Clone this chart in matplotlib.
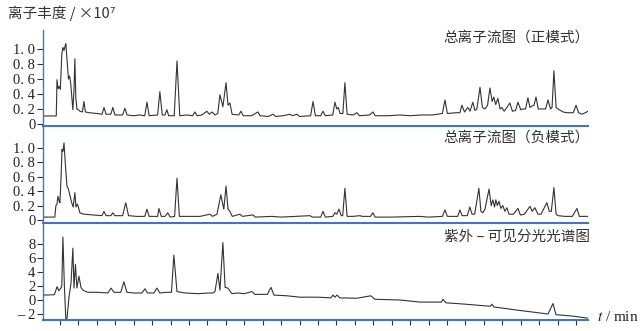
import matplotlib
matplotlib.use("Agg")
import matplotlib.pyplot as plt

# ---- data (time in min) ----
pos_t = [0.08, 0.80, 0.84, 0.90, 0.96, 1.02, 1.10, 1.16, 1.22, 1.28, 1.32, 1.40, 1.46, 1.52,
         1.58, 1.66, 1.70, 1.76, 1.81, 1.86, 1.92, 2.00, 2.08, 2.22, 2.30, 2.38, 2.60, 3.00,
         3.28, 3.39, 3.50, 3.76, 3.87, 3.98, 4.40, 4.52, 4.64, 5.00, 5.30, 5.60, 5.72, 5.84,
         6.30, 6.42, 6.55, 6.70, 6.80, 6.90, 7.20, 7.35, 7.50, 7.90, 8.20, 8.32, 8.44, 8.70,
         8.97, 9.10, 9.25, 9.40, 9.56, 9.68, 9.84, 10.01, 10.12, 10.22, 10.34, 10.70, 10.82,
         10.94, 11.40, 11.74, 11.86, 12.30, 12.56, 12.70, 13.10, 13.48, 13.60, 13.86, 14.00,
         14.60, 14.73, 14.86, 15.15, 15.27, 15.40, 15.80, 15.92, 16.02, 16.10, 16.20, 16.35,
         16.46, 16.58, 16.90, 17.11, 17.25, 17.80, 17.98, 18.10, 18.80, 19.44, 20.00, 20.60,
         21.20, 21.75, 21.89, 22.02, 22.50, 22.70, 22.81, 22.95, 23.13, 23.25, 23.40, 23.52,
         23.62, 23.79, 23.92, 24.06, 24.20, 24.33, 24.45, 24.54, 24.64, 24.76, 24.88, 24.98,
         25.10, 25.25, 25.41, 25.55, 25.72, 25.85, 26.00, 26.12, 26.26, 26.39, 26.50, 26.61,
         26.72, 26.83, 26.95, 27.15, 27.35, 27.48, 27.62, 27.70, 27.80, 27.92, 28.02, 28.30,
         28.51, 28.85, 29.00, 29.14, 29.32, 29.50, 29.65]
pos_v = [0.107, 0.107, 0.59, 0.47, 0.50, 0.46, 0.93, 1.02, 0.98, 1.04, 1.07, 0.80, 0.60, 0.64,
         0.55, 0.30, 0.19, 0.45, 0.87, 0.35, 0.20, 0.19, 0.17, 0.16, 0.30, 0.16, 0.15, 0.14,
         0.13, 0.22, 0.13, 0.13, 0.22, 0.12, 0.12, 0.21, 0.12, 0.11, 0.12, 0.11, 0.29, 0.11,
         0.12, 0.43, 0.12, 0.12, 0.19, 0.11, 0.11, 0.84, 0.11, 0.12, 0.11, 0.16, 0.11, 0.12,
         0.17, 0.13, 0.16, 0.12, 0.14, 0.39, 0.23, 0.55, 0.25, 0.28, 0.13, 0.12, 0.17,
         0.11, 0.11, 0.16, 0.11, 0.10, 0.13, 0.10, 0.11, 0.13, 0.11, 0.13, 0.10,
         0.11, 0.30, 0.11, 0.11, 0.17, 0.11, 0.12, 0.29, 0.20, 0.22, 0.14, 0.14,
         0.55, 0.13, 0.12, 0.15, 0.11, 0.12, 0.16, 0.11, 0.11, 0.12, 0.11, 0.12,
         0.12, 0.14, 0.32, 0.14, 0.15, 0.15, 0.25, 0.16, 0.22, 0.17, 0.29, 0.18,
         0.20, 0.49, 0.22, 0.20, 0.25, 0.48, 0.30, 0.36, 0.26, 0.34, 0.20, 0.22,
         0.17, 0.22, 0.28, 0.17, 0.18, 0.29, 0.19, 0.20, 0.20, 0.35, 0.22, 0.24,
         0.25, 0.36, 0.20, 0.20, 0.20, 0.32, 0.20, 0.22, 0.71, 0.22, 0.20, 0.16,
         0.15, 0.15, 0.25, 0.15, 0.13, 0.15, 0.17]

neg_t = [0.08, 0.72, 0.78, 0.84, 0.89, 0.96, 1.00, 1.06, 1.11, 1.16, 1.22, 1.30, 1.38, 1.44,
         1.49, 1.58, 1.66, 1.72, 1.81, 1.87, 1.94, 2.00, 2.08, 2.30, 2.80, 3.28, 3.39, 3.50,
         3.76, 3.87, 3.98, 4.40, 4.57, 4.72, 5.15, 5.60, 5.72, 5.84, 6.30, 6.37, 6.50, 6.70,
         6.85, 6.98, 7.22, 7.35, 7.48, 8.00, 8.60, 9.14, 9.28, 9.52, 9.73, 9.89, 10.01, 10.12,
         10.22, 10.35, 10.76, 10.90, 11.47, 11.60, 12.50, 13.00, 14.56, 14.70, 15.15, 15.27,
         15.40, 15.80, 15.92, 16.02, 16.14, 16.26, 16.34, 16.46, 16.58, 16.90, 17.27, 17.40,
         17.85, 17.98, 18.10, 19.00, 20.50, 21.00, 21.75, 21.89, 22.02, 22.58, 22.70, 22.82,
         23.10, 23.24, 23.36, 23.50, 23.73, 23.84, 23.95, 24.06, 24.28, 24.40, 24.49, 24.58,
         24.65, 24.73, 24.82, 24.92, 25.03, 25.14, 25.25, 25.36, 25.60, 25.85, 25.98, 26.20,
         26.50, 26.62, 26.77, 26.93, 27.10, 27.42, 27.55, 27.66, 27.80, 27.92, 28.02, 28.40,
         28.80, 29.05, 29.18, 29.65]
neg_v = [0.04, 0.04, 0.20, 0.22, 0.33, 0.26, 0.24, 0.60, 0.98, 0.95, 1.07, 0.75, 0.47, 0.44,
         0.40, 0.30, 0.22, 0.18, 0.38, 0.18, 0.22, 0.18, 0.10, 0.08, 0.07, 0.06, 0.12, 0.06,
         0.06, 0.10, 0.06, 0.06, 0.24, 0.06, 0.05, 0.05, 0.15, 0.05, 0.05, 0.16, 0.05, 0.05,
         0.10, 0.04, 0.05, 0.58, 0.05, 0.05, 0.05, 0.08, 0.05, 0.08, 0.35, 0.15, 0.47, 0.15,
         0.12, 0.05, 0.08, 0.05, 0.07, 0.04, 0.05, 0.04, 0.06, 0.04, 0.04, 0.12,
         0.04, 0.05, 0.10, 0.08, 0.15, 0.06, 0.06, 0.44, 0.05, 0.05, 0.06, 0.05,
         0.05, 0.10, 0.04, 0.04, 0.05, 0.04, 0.05, 0.14, 0.05, 0.05, 0.14, 0.06,
         0.06, 0.18, 0.08, 0.08, 0.44, 0.12, 0.10, 0.15, 0.43, 0.20, 0.28, 0.18,
         0.28, 0.20, 0.26, 0.16, 0.20, 0.12, 0.17, 0.08, 0.08, 0.16, 0.07, 0.08,
         0.19, 0.12, 0.17, 0.08, 0.08, 0.24, 0.12, 0.12, 0.45, 0.08, 0.06, 0.05,
         0.05, 0.16, 0.05, 0.05]

uv_t = [0.08, 0.70, 0.84, 0.94, 1.05, 1.10, 1.16, 1.24, 1.32, 1.38, 1.49, 1.60, 1.70, 1.76,
        1.84, 1.92, 2.03, 2.14, 2.25, 2.50, 3.00, 3.60, 3.77, 3.93, 4.30, 4.47, 4.63, 5.00,
        5.45, 5.61, 5.75, 6.10, 6.26, 6.42, 6.80, 7.05, 7.18, 7.35, 7.78, 8.50, 9.08, 9.30,
        9.41, 9.57, 9.68, 9.84, 9.96, 10.11, 10.33, 10.66, 11.00, 11.42, 11.58, 12.25, 12.45,
        12.61, 13.31, 14.02, 15.00, 15.70, 15.81, 15.92, 16.03, 16.19, 17.11, 17.87, 18.09,
        19.44, 20.53, 21.70, 21.78, 21.94, 23.00, 24.35, 24.44, 24.55, 25.96, 27.48, 27.75,
        27.91, 28.80, 29.65]
uv_v = [0.7, 0.75, 1.9, 1.3, 1.7, 2.0, 9.0, 2.0, -2.8, -2.7, 0.4, 2.4, 7.4, 1.7,
        5.1, 1.7, 3.4, 1.8, 1.4, 1.1, 1.1, 1.0, 1.7, 1.1, 1.1, 2.6, 1.1, 1.0,
        1.0, 1.6, 1.0, 1.0, 1.7, 1.0, 1.1, 1.1, 6.4, 1.2, 1.0, 0.9, 1.0, 1.0,
        1.2, 3.8, 1.4, 8.2, 1.8, 1.7, 0.9, 1.0, 0.9, 1.2, 0.8, 0.8, 1.8,
        0.7, 0.6, 0.4, 0.4, 0.3, 0.7, 0.4, 0.7, 0.3, 0.25, 0.6, 0.1,
        0.0, -0.3, -0.3, 0.1, -0.4, -0.6, -0.9, -0.6, -1.0, -1.5, -2.0, -0.5,
        -2.1, -2.3, -2.6]

ms_yticks = [0, 0.2, 0.4, 0.6, 0.8, 1.0]
ms_ylabels = ["0", "0. 2", "0. 4", "0. 6", "0. 8", "1. 0"]
uv_yticks = [-2, 0, 2, 4, 6, 8]
uv_ylabels = ["– 2", "0", "2", "4", "6", "8"]
time_ticks = list(range(1, 30))
panel_titles = ["总离子流图（正模式）", "总离子流图（负模式）", "紫外 – 可见分光光谱图"]

AXIS_BLUE = "#4472C4"
TRACE = "#333333"
CJK = ["Noto Sans CJK SC", "DejaVu Sans"]

plt.rcParams["mathtext.fontset"] = "stix"
plt.rcParams["font.family"] = ["Liberation Serif", "DejaVu Serif"]

W, H = 640, 331
fig = plt.figure(figsize=(W / 100, H / 100), dpi=100)


def _panel(top, bottom):
    return fig.add_axes([43 / W, 1 - bottom / H, (588 - 43) / W, (bottom - top) / H])


panels = [
    (_panel(30, 126), pos_t, pos_v, (-0.027, 1.253), ms_yticks, ms_ylabels),
    (_panel(126, 223), neg_t, neg_v, (-0.042, 1.306), ms_yticks, ms_ylabels),
    (_panel(223, 320), uv_t, uv_v, (-2.86, 11.0), uv_yticks, uv_ylabels),
]

for i, (ax, t, v, ylim, yt, yl) in enumerate(panels):
    ax.plot(t, v, color=TRACE, linewidth=0.8)
    ax.set_xlim(0.08, 29.65)
    ax.set_ylim(*ylim)
    ax.set_yticks(yt, labels=yl)
    for s in ("top", "right"):
        ax.spines[s].set_visible(False)
    ax.spines["left"].set_color(AXIS_BLUE)
    ax.spines["left"].set_linewidth(1.0)
    ax.spines["bottom"].set_color(AXIS_BLUE)
    ax.spines["bottom"].set_linewidth(1.5)
    ax.patch.set_alpha(0)
    ax.tick_params(axis="y", direction="out", length=4, width=0.8, color="#333333",
                   pad=1.5, labelsize=10.5, labelcolor="#222222")
    if i < 2:
        ax.tick_params(axis="x", bottom=False, labelbottom=False)
    else:
        ax.set_xticks(time_ticks)
        ax.tick_params(axis="x", direction="out", length=3.5, width=0.8, color="#333333",
                       labelbottom=False)

# panel captions
for ypix, txt in zip([38, 138, 237], panel_titles):
    fig.text(590 / W, 1 - ypix / H, txt, ha="right", va="center", fontsize=10.5,
             family=CJK, color="#333333")

fig.text(8 / W, 1 - 13 / H, "离子丰度 / ×10⁷", ha="left", va="center", fontsize=10.5,
         family=CJK, color="#333333")
fig.text(597 / W, 1 - 317 / H, "$t$ / min", ha="left", va="center", fontsize=11,
         color="#222222")

fig.savefig("out.png", dpi=100)
